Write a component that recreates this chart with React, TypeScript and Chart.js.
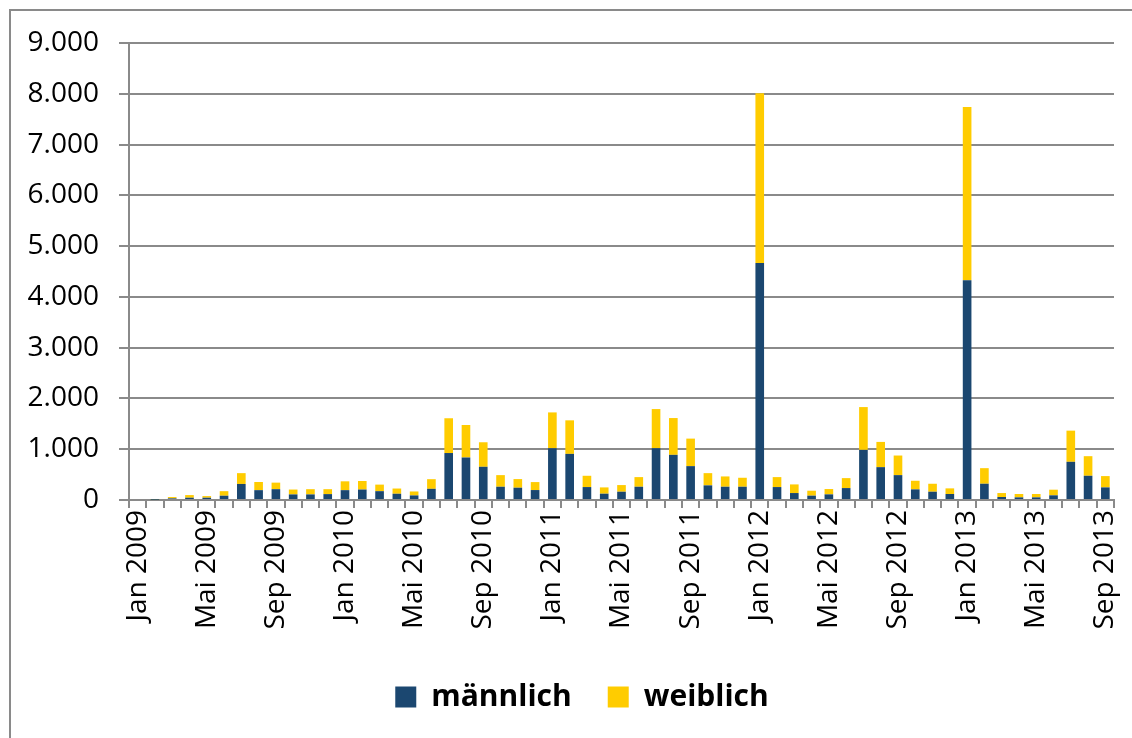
import React, { useEffect, useRef } from "react";
import { Chart, registerables } from "chart.js";

Chart.register(...registerables);

const monthNames = ["Jan", "Feb", "Mär", "Apr", "Mai", "Jun", "Jul", "Aug", "Sep", "Okt", "Nov", "Dez"];
const years = [2009, 2010, 2011, 2012, 2013];
const categories: string[] = [];
years.forEach((y) => monthNames.forEach((m) => categories.push(`${m} ${y}`)));
categories.splice(57);

const maennlich = [
  0, 5, 32, 45, 45, 84, 316, 194, 213, 110, 110, 116,
  194, 206, 174, 123, 90, 220, 925, 837, 654, 261, 242, 196,
  1020, 908, 255, 124, 163, 261, 1020, 889, 667, 288, 261, 261,
  4665, 255, 137, 85, 111, 235, 987, 647, 490, 209, 163, 118,
  4330, 320, 59, 52, 52, 92, 752, 477, 248,
];
const weiblich = [
  0, 10, 26, 52, 32, 90, 213, 161, 129, 96, 103, 97,
  174, 168, 129, 103, 78, 190, 685, 640, 483, 229, 170, 157,
  705, 661, 222, 124, 131, 190, 771, 725, 542, 241, 203, 177,
  3345, 196, 170, 98, 105, 196, 843, 497, 386, 170, 157, 111,
  3410, 307, 78, 66, 66, 111, 614, 386, 223,
];
const yTicks = [0, 1000, 2000, 3000, 4000, 5000, 6000, 7000, 8000, 9000];

const BLUE = "#1B4770";
const YELLOW = "#FFCC00";
const GRID = "#8A8A8A";
const FONT = "'Open Sans', sans-serif";

function fmt(v: number): string {
  return v.toString().replace(/\B(?=(\d{3})+(?!\d))/g, ".");
}

const legendShift = {
  id: "legendShift",
  afterLayout(chart: any) {
    if (chart.legend) {
      chart.legend.left += 20;
      chart.legend.right += 20;
    }
  },
};

export default function App() {
  const ref = useRef<HTMLCanvasElement>(null);
  useEffect(() => {
    if (!ref.current) return;
    const chart = new Chart(ref.current, {
      type: "bar",
      data: {
        labels: categories,
        datasets: [
          { label: "männlich", data: maennlich, backgroundColor: BLUE, barPercentage: 0.5, categoryPercentage: 1 },
          { label: "weiblich", data: weiblich, backgroundColor: YELLOW, barPercentage: 0.5, categoryPercentage: 1 },
        ],
      },
      plugins: [legendShift],
      options: {
        animation: false,
        responsive: false,
        maintainAspectRatio: false,
        layout: { padding: { left: 10, top: 43, right: 18, bottom: 16 } },
        plugins: {
          tooltip: { enabled: false },
          legend: {
            position: "bottom",
            labels: {
              boxWidth: 21,
              boxHeight: 21,
              padding: 36,
              color: "#000",
              font: { family: FONT, size: 30, weight: "bold" },
            },
          },
        },
        scales: {
          x: {
            stacked: true,
            afterFit: (s: any) => { s.height = 146; s.paddingLeft = 0; s.paddingRight = 0; },
            border: { color: GRID, width: 2 },
            grid: { offset: true, drawOnChartArea: false, drawTicks: true, tickLength: 8, color: GRID, lineWidth: 2 },
            ticks: {
              autoSkip: false,
              minRotation: 90,
              maxRotation: 90,
              padding: 2,
              color: "#000",
              font: { family: FONT, size: 28 },
              callback: (_v: any, i: number) => (i % 4 === 0 ? categories[i] : ""),
            },
          },
          y: {
            stacked: true,
            min: 0,
            max: 9000,
            afterFit: (s: any) => { s.width = 119; s.paddingTop = 0; s.paddingBottom = 0; },
            afterBuildTicks: (s: any) => { s.ticks = yTicks.map((v) => ({ value: v })); },
            border: { color: GRID, width: 2 },
            grid: { color: GRID, lineWidth: 2, tickLength: 10 },
            ticks: {
              padding: 20,
              color: "#000",
              font: { family: FONT, size: 28 },
              callback: (v: any) => fmt(Number(v)),
            },
          },
        },
      },
    });
    return () => chart.destroy();
  }, []);
  return (
    <div style={{ position: "fixed", left: 0, top: 0, width: 1132, height: 738, background: "#fff" }}>
      <div style={{ position: "absolute", left: 9, top: 9, width: 1200, height: 800, borderLeft: `2px solid ${GRID}`, borderTop: `2px solid ${GRID}` }} />
      <canvas ref={ref} width={1132} height={738} style={{ position: "absolute", left: 0, top: 0 }} />
    </div>
  );
}
